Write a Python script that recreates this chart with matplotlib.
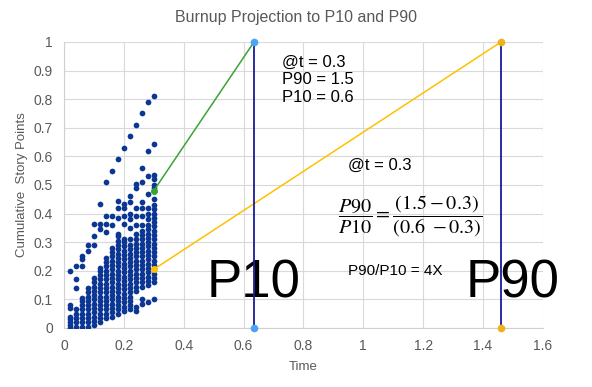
#%% Load modules
import matplotlib.pyplot as plt
import matplotlib as mpl
import numpy as np

#%% Data
# simulated burnup samples, one column per time step
times = [0.02, 0.04, 0.06, 0.08, 0.10, 0.12, 0.14, 0.16, 0.18, 0.20, 0.22, 0.24, 0.26, 0.28, 0.30]
points = [
    [0.0, 0.01, 0.02, 0.03, 0.04, 0.07, 0.08, 0.20],
    [0.005, 0.02, 0.035, 0.05, 0.065, 0.14, 0.17, 0.215],
    [0.005, 0.02, 0.035, 0.05, 0.065, 0.08, 0.095, 0.105, 0.215, 0.24, 0.25],
    [0.005, 0.02, 0.035, 0.05, 0.065, 0.08, 0.095, 0.11, 0.125, 0.14, 0.27, 0.29],
    [0.01, 0.025, 0.04, 0.055, 0.07, 0.085, 0.10, 0.115, 0.13, 0.145, 0.16, 0.175, 0.29, 0.32, 0.365],
    [0.02, 0.035, 0.05, 0.065, 0.08, 0.095, 0.11, 0.125, 0.14, 0.155, 0.17, 0.185, 0.20, 0.21,
     0.345, 0.365, 0.435],
    [0.035, 0.05, 0.065, 0.08, 0.095, 0.11, 0.125, 0.14, 0.155, 0.17, 0.185, 0.20, 0.215, 0.23, 0.245,
     0.335, 0.365, 0.39, 0.51],
    [0.04, 0.055, 0.07, 0.085, 0.10, 0.115, 0.13, 0.145, 0.16, 0.175, 0.19, 0.205, 0.22, 0.235, 0.25,
     0.265, 0.28, 0.36, 0.39, 0.55],
    [0.05, 0.065, 0.08, 0.095, 0.11, 0.125, 0.14, 0.155, 0.17, 0.185, 0.20, 0.215, 0.23, 0.245, 0.26,
     0.275, 0.29, 0.305, 0.32, 0.33, 0.385, 0.42, 0.445, 0.59],
    [0.06, 0.075, 0.09, 0.105, 0.12, 0.135, 0.15, 0.165, 0.18, 0.195, 0.21, 0.225, 0.24, 0.255, 0.27,
     0.285, 0.30, 0.31, 0.365, 0.39, 0.42, 0.435, 0.63],
    [0.065, 0.08, 0.095, 0.11, 0.125, 0.14, 0.155, 0.17, 0.185, 0.20, 0.215, 0.23, 0.245, 0.26, 0.275,
     0.29, 0.31, 0.35, 0.38, 0.40, 0.44, 0.46, 0.67],
    [0.06, 0.075, 0.13, 0.145, 0.16, 0.175, 0.19, 0.205, 0.22, 0.235, 0.25, 0.265, 0.28, 0.295, 0.31,
     0.33, 0.36, 0.39, 0.42, 0.49, 0.505, 0.71],
    [0.085, 0.10, 0.145, 0.16, 0.175, 0.19, 0.205, 0.22, 0.235, 0.25, 0.265, 0.28, 0.295, 0.31, 0.325,
     0.34, 0.36, 0.39, 0.42, 0.44, 0.51, 0.56, 0.75],
    [0.09, 0.15, 0.165, 0.18, 0.195, 0.21, 0.225, 0.24, 0.255, 0.27, 0.285, 0.30, 0.315, 0.33, 0.345,
     0.36, 0.38, 0.40, 0.42, 0.47, 0.53, 0.62, 0.79],
    [0.10, 0.16, 0.175, 0.19, 0.205, 0.22, 0.235, 0.25, 0.265, 0.28, 0.295, 0.31, 0.325, 0.34, 0.355,
     0.37, 0.385, 0.40, 0.415, 0.43, 0.45, 0.48, 0.49, 0.50, 0.52, 0.535, 0.645, 0.81],
]

# projection lines
t_now = 0.3
fast_now = 0.48    # burnup at t_now, fast trajectory
slow_now = 0.205   # burnup at t_now, slow trajectory
p10 = 0.635
p90 = 1.46

#%% Plot
mpl.rcParams['font.family'] = ['Liberation Sans', 'DejaVu Sans']
mpl.rcParams['mathtext.fontset'] = 'stix'
grey = '#595959'

fig = plt.figure(figsize=(5.92, 3.87), dpi=100)
ax = fig.add_axes([0.108, 0.1525, 0.809, 0.739])

xs = np.concatenate([[t] * len(p) for t, p in zip(times, points)])
ys = np.concatenate(points)
ax.scatter(xs, ys, s=17, color='#0b3694', zorder=3, linewidths=0)

ax.plot([t_now, p10], [fast_now, 1], color='#3aa335', lw=1.1, zorder=4)
ax.plot([t_now, p90], [slow_now, 1], color='#ffc000', lw=1.1, zorder=4)
ax.plot([t_now], [fast_now], 'o', color='#3aa335', ms=4, zorder=5)
ax.plot([t_now], [slow_now], 'o', color='#ffc000', ms=4, zorder=5)

ax.plot([p10, p10], [0, 1], color='#1a1a9c', lw=1.3, zorder=4)
ax.plot([p10, p10], [0, 1], 'o', color='#4aa3f5', ms=4.5, zorder=5, clip_on=False)
ax.plot([p90, p90], [0, 1], color='#1a1a9c', lw=1.3, zorder=4)
ax.plot([p90, p90], [0, 1], 'o', color='#f0b21c', ms=4.5, zorder=5, clip_on=False)

ax.set_xlim(0, 1.6)
ax.set_ylim(0, 1)
ax.set_xticks(np.arange(0, 1.61, 0.2))
ax.set_xticklabels(['0', '0.2', '0.4', '0.6', '0.8', '1', '1.2', '1.4', '1.6'])
ax.set_yticks(np.arange(0, 1.01, 0.1))
ax.set_yticklabels(['0', '0.1', '0.2', '0.3', '0.4', '0.5', '0.6', '0.7', '0.8', '0.9', '1'])
ax.grid(True, color='#d9d9d9', lw=0.8)
ax.set_axisbelow(True)
ax.tick_params(length=0, labelsize=10, colors=grey, pad=8)
for side in ['top', 'right']:
    ax.spines[side].set_visible(False)
for side in ['left', 'bottom']:
    ax.spines[side].set_color('#d0d0d0')

ax.set_xlabel('Time', fontsize=9.5, color=grey, labelpad=6)
ax.set_ylabel('Cumulative  Story Points', fontsize=9.5, color=grey, labelpad=4)
fig.text(0.5, 0.955, 'Burnup Projection to P10 and P90', ha='center', va='center',
         fontsize=11.5, color=grey)

ax.text(0.73, 0.955, '@t = 0.3\nP90 = 1.5\nP10 = 0.6', fontsize=12, va='top',
        linespacing=1.2)
ax.text(0.95, 0.57, '@t = 0.3', fontsize=12, va='center')
ax.text(0.915, 0.39, r'$\dfrac{P90}{P10} = \dfrac{(1.5-0.3)}{(0.6\ -0.3)}$', fontsize=14.5,
        va='center')
ax.text(0.95, 0.2, 'P90/P10 = 4X', fontsize=11, va='center')
ax.text(p10, 0.108, 'P10', fontsize=38, ha='center', va='baseline')
ax.text(1.5, 0.108, 'P90', fontsize=38, ha='center', va='baseline')

fig.savefig('out.png', dpi=100)
